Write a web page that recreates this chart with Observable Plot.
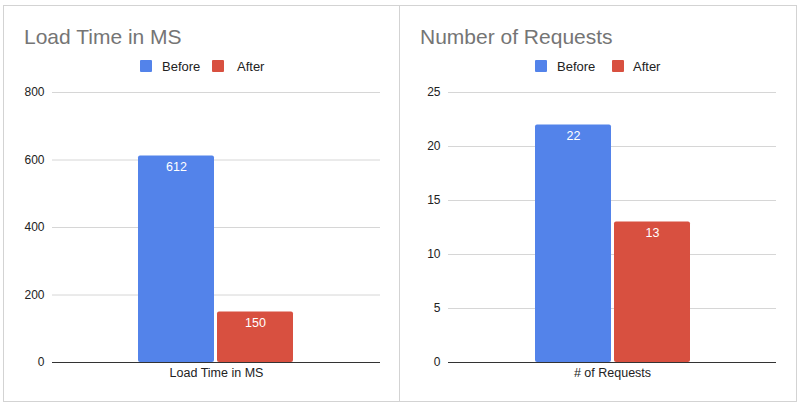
<!DOCTYPE html>
<html>
<head>
<meta charset="utf-8">
<script src="https://cdn.jsdelivr.net/npm/d3@7"></script>
<script src="https://cdn.jsdelivr.net/npm/@observablehq/plot@0.6"></script>
<style>
  html, body { margin: 0; padding: 0; background: #fff; }
  body { width: 800px; height: 407px; position: relative; overflow: hidden; font-family: "Liberation Sans", Arial, sans-serif; }
  .frame { position: absolute; left: 3px; top: 5px; width: 792px; height: 395px; border: 1px solid #d3d3d3; box-sizing: content-box; }
  .divider { position: absolute; left: 399px; top: 5px; width: 1px; height: 397px; background: #d3d3d3; }
  .title { position: absolute; font-size: 21px; color: #757575; line-height: 1; white-space: nowrap; }
  .sw { position: absolute; width: 12px; height: 12px; border-radius: 1px; }
  .lt { position: absolute; font-size: 13px; color: #222; line-height: 1; white-space: nowrap; }
  .chart { position: absolute; top: 0; }
</style>
</head>
<body>
<div class="frame"></div>
<div class="divider"></div>
<div id="root"></div>
<script>
// ---- data ----
const series = ["Before", "After"];
const colors = ["#5383ea", "#d85040"];

const loadTitle = "Load Time in MS";
const loadCategory = "Load Time in MS";
const loadValues = [612, 150];
const loadTicks = [0, 200, 400, 600, 800];

const reqTitle = "Number of Requests";
const reqCategory = "# of Requests";
const reqValues = [22, 13];
const reqTicks = [0, 5, 10, 15, 20, 25];

const root = document.getElementById("root");

function addDiv(cls, css, text) {
  const d = document.createElement("div");
  d.className = cls;
  Object.assign(d.style, css);
  if (text != null) d.textContent = text;
  root.appendChild(d);
  return d;
}

function panel(opts) {
  const {left, width, title, titleX, category, values, ticks, legendX, barRange, mL, mR} = opts;
  // title
  addDiv("title", {left: titleX + "px", top: "26px"}, title);
  // legend
  addDiv("sw", {left: legendX[0] + "px", top: "60px", background: colors[0]});
  addDiv("lt", {left: legendX[1] + "px", top: "60px"}, series[0]);
  addDiv("sw", {left: legendX[2] + "px", top: "60px", background: colors[1]});
  addDiv("lt", {left: legendX[3] + "px", top: "60px"}, series[1]);

  const data = series.map((s, i) => ({series: s, value: values[i]}));
  const ymax = ticks[ticks.length - 1];

  const chart = Plot.plot({
    width: width,
    height: 407,
    marginTop: 92,
    marginBottom: 45,
    marginLeft: mL,
    marginRight: mR,
    style: {fontFamily: "'Liberation Sans', Arial, sans-serif", fontSize: "12px", color: "#222", background: "transparent"},
    x: {domain: series, range: barRange, paddingInner: 0.04, paddingOuter: 0, axis: null},
    y: {domain: [0, ymax], ticks: ticks, label: null, tickSize: 0, tickPadding: 8},
    color: {domain: series, range: colors},
    marks: [
      Plot.gridY(ticks, {stroke: "#d6d6d6", strokeOpacity: 1}),
      Plot.axisY(ticks, {tickSize: 0, tickPadding: 8, label: null, fontSize: 12, fill: "#222"}),
      Plot.barY(data, {x: "series", y: "value", fill: "series", rx: 2}),
      Plot.ruleY([0], {stroke: "#333", strokeWidth: 1}),
      Plot.text(data, {x: "series", y: "value", text: d => String(d.value), dy: 11, fill: "white", fontSize: 12.5}),
      Plot.text([category], {frameAnchor: "bottom", text: d => d, dy: 14, fill: "#222", fontSize: 12.5})
    ]
  });
  chart.classList.add("chart");
  chart.style.left = left + "px";
  root.appendChild(chart);
}

panel({
  left: 0, width: 399, title: loadTitle, titleX: 24, category: loadCategory,
  values: loadValues, ticks: loadTicks, legendX: [140, 162, 212, 237],
  barRange: [138, 293], mL: 52, mR: 19
});
panel({
  left: 399, width: 397, title: reqTitle, titleX: 420, category: reqCategory,
  values: reqValues, ticks: reqTicks, legendX: [535, 557, 612, 633],
  barRange: [135, 291], mL: 49, mR: 20
});
</script>
</body>
</html>
